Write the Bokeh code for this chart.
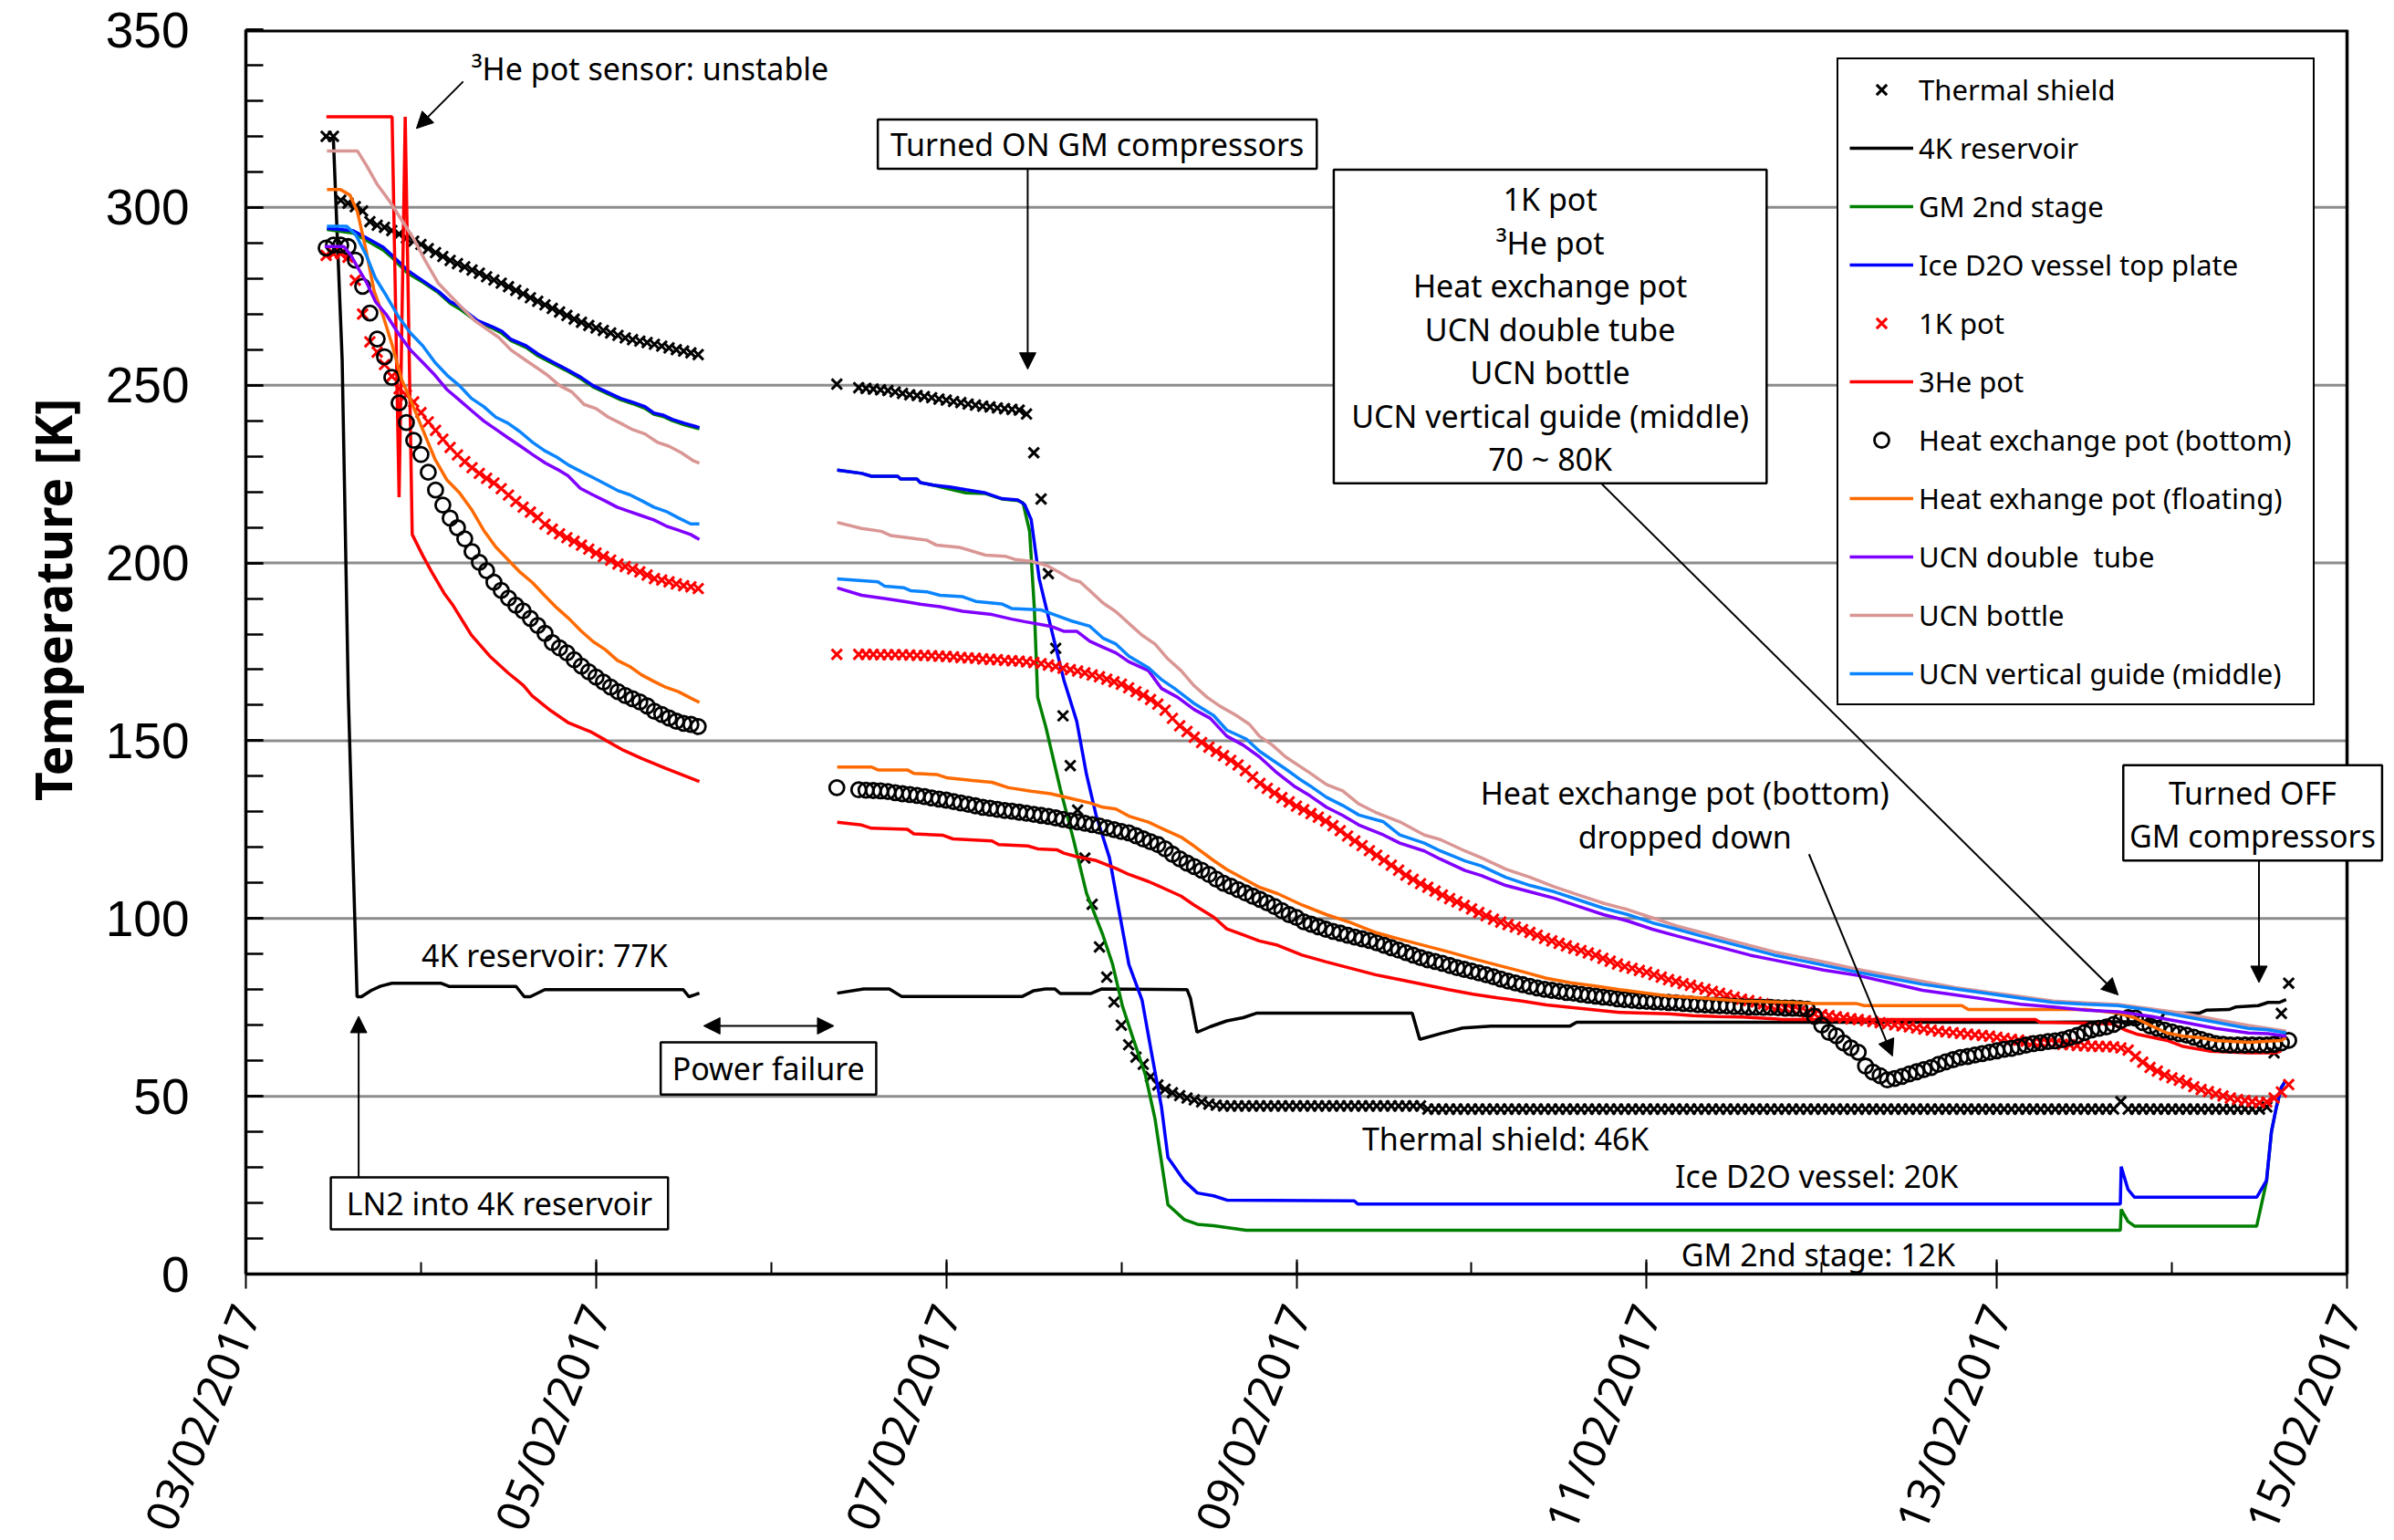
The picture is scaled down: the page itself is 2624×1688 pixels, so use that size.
import math
import numpy as np
from bokeh.plotting import figure
from bokeh.models import (Range1d, FixedTicker, Legend, LegendItem, Label, Title,
                          BoxAnnotation, Arrow, NormalHead)
from bokeh.embed import file_html
from bokeh.resources import INLINE

NAN = float("nan")

# ---------------- axes ----------------
date_ticks = [0, 2, 4, 6, 8, 10, 12]          # days since 03/02/2017 00:00
date_labels = ["03/02/2017", "05/02/2017", "07/02/2017", "09/02/2017",
               "11/02/2017", "13/02/2017", "15/02/2017"]
day_minor_ticks = list(range(0, 13))
temp_ticks = [0, 50, 100, 150, 200, 250, 300, 350]
temp_grid = [50, 100, 150, 200, 250, 300]
temp_minor_ticks = list(range(0, 351, 10))

# ---------------- hourly logged marker series ----------------
seg1_hours = list(range(11, 63))    # before power failure
seg2_hours = list(range(81, 281))   # after power failure

thermal_shield_seg1 = [
    320, 320, 302, 301.2, 300.2, 299, 296, 295, 294.4, 293.5,
    292.5, 291.4, 290.5, 289.6, 288.4, 287.3, 286.2, 285.1, 284.2, 283.3,
    282.4, 281.5, 280.5, 279.6, 278.7, 277.7, 276.7, 275.7, 274.6, 273.6,
    272.6, 271.6, 270.6, 269.6, 268.6, 267.7, 266.8, 266.1, 265.4, 264.7,
    264, 263.3, 262.8, 262.4, 262, 261.5, 261, 260.5, 260, 259.6,
    259.1, 258.6]
thermal_shield_seg2 = [
    250.3, NAN, NAN, 249.3, 249.1, 248.9, 248.7, 248.5, 248.1, 247.7,
    247.3, 247.1, 246.8, 246.5, 246.1, 245.8, 245.4, 245.1, 244.7, 244.4,
    244.1, 243.9, 243.6, 243.4, 243.2, 243.0, 241.9, 231, 218, 197,
    176, 157, 143, 130.5, 117, 104, 92, 83.5, 76.5, 70,
    64.5, 61, 59, 55.5, 53.2, 52, 51, 50.2, 49.5, 49,
    48.4, 47.8, 47.5, 47.3, 47.3, 47.3, 47.3, 47.3, 47.3, 47.3,
    47.3, 47.3, 47.3, 47.3, 47.3, 47.3, 47.3, 47.3, 47.3, 47.3,
    47.3, 47.3, 47.3, 47.3, 47.3, 47.3, 47.3, 47.3, 47.3, 47.3,
    47.3, 46.4, 46.4, 46.4, 46.4, 46.4, 46.4, 46.4, 46.4, 46.4,
    46.4, 46.4, 46.4, 46.4, 46.4, 46.4, 46.4, 46.4, 46.4, 46.4,
    46.4, 46.4, 46.4, 46.4, 46.4, 46.4, 46.4, 46.4, 46.4, 46.4,
    46.4, 46.4, 46.4, 46.4, 46.4, 46.4, 46.4, 46.4, 46.4, 46.4,
    46.4, 46.4, 46.4, 46.4, 46.4, 46.4, 46.4, 46.4, 46.4, 46.4,
    46.4, 46.4, 46.4, 46.4, 46.4, 46.4, 46.4, 46.4, 46.4, 46.4,
    46.4, 46.4, 46.4, 46.4, 46.4, 46.4, 46.4, 46.4, 46.4, 46.4,
    46.4, 46.4, 46.4, 46.4, 46.4, 46.4, 46.4, 46.4, 46.4, 46.4,
    46.4, 46.4, 46.4, 46.4, 46.4, 46.4, 46.4, 46.4, 46.4, 46.4,
    46.4, 46.4, 46.4, 46.4, 46.4, 46.4, 48.5, 46.4, 46.4, 46.4,
    46.4, 46.4, 46.4, 46.4, 46.4, 46.4, 46.4, 46.4, 46.4, 46.4,
    46.4, 46.4, 46.4, 46.4, 46.4, 46.4, 47, 62.2, 73.3, 81.8]

pot1k_seg1 = [
    286.5, 287, 287, 286, 279.5, 270, 262.2, 259.3, 255.8, 252.5,
    249, 247.2, 245.3, 242.3, 239.7, 237.3, 234.8, 232.5, 230.4, 228.5,
    226.8, 225.2, 223.8, 222.5, 220.9, 219.1, 217.3, 215.7, 214.3, 212.8,
    210.9, 209.5, 208.2, 207.1, 206.1, 205, 203.9, 202.8, 201.8, 200.8,
    199.7, 199, 198.3, 197.5, 196.6, 195.6, 195.2, 194.7, 194.1, 193.6,
    193.3, 192.8]
pot1k_seg2 = [
    174.3, NAN, NAN, 174.3, 174.3, 174.3, 174.2, 174.2, 174.2, 174.2,
    174.1, 174, 174, 173.9, 173.8, 173.7, 173.6, 173.4, 173.3, 173.2,
    173, 172.9, 172.8, 172.6, 172.5, 172.4, 172.2, 172, 171.7, 171.3,
    170.9, 170.4, 170, 169.6, 169.1, 168.5, 168, 167.3, 166.6, 165.9,
    164.9, 163.8, 162.8, 161.6, 160.3, 158.6, 156.3, 154.2, 152.6, 151,
    149.5, 148.2, 147, 145.8, 144.5, 143.2, 141.6, 139.8, 138, 136.6,
    135.3, 134, 132.8, 131.6, 130.6, 129.5, 128.5, 127.4, 126.1, 124.7,
    123.2, 121.8, 120.5, 119.1, 117.8, 116.4, 115, 113.6, 112.2, 111,
    109.8, 108.8, 107.7, 106.6, 105.6, 104.7, 103.7, 102.7, 101.7, 100.8,
    99.8, 99, 98.3, 97.6, 96.9, 96.1, 95.3, 94.4, 93.7, 93,
    92.3, 91.6, 91, 90.3, 89.7, 88.8, 88, 87.2, 86.5, 86,
    85.4, 84.9, 84.2, 83.5, 82.8, 82.3, 81.7, 81.2, 80.6, 80.1,
    79.5, 79, 78.4, 77.9, 77.3, 76.9, 76.5, 76, 75.6, 75.2,
    74.8, 74.4, 74, 73.6, 73.2, 73, 72.7, 72.4, 72.1, 71.8,
    71.6, 71.3, 71, 70.7, 70.4, 70.1, 69.8, 69.5, 69.2, 68.9,
    68.6, 68.3, 68.1, 67.9, 67.7, 67.5, 67.3, 67.1, 66.9, 66.6,
    66.3, 66, 65.8, 65.5, 65.3, 65.1, 64.9, 64.8, 64.6, 64.5,
    64.3, 64.2, 64.1, 64, 64, 63.9, 63.6, 63, 61.2, 59.6,
    58.1, 57.1, 56, 55.2, 54.5, 53.7, 52.7, 51.9, 51.3, 50.7,
    50.1, 49.5, 49.1, 48.8, 48.5, 48.2, 48.4, 49.5, 51.2, 53.3]

hx_bottom_seg1 = [
    288.6, 289.4, 289.4, 289, 285.2, 277.8, 270.3, 263, 258, 252.2,
    245, 239.5, 234.5, 230.5, 225.5, 220.5, 216.3, 212.6, 209.9, 206.8,
    203.2, 200.2, 197.8, 194.6, 192.3, 190.1, 188.1, 186.5, 184.4, 182.4,
    180.2, 177.6, 176.1, 174.7, 172.8, 171, 169.4, 167.9, 166.5, 165.1,
    163.8, 162.7, 161.8, 160.9, 159.8, 158.3, 157.4, 156.4, 155.5, 154.9,
    154.6, 154]
hx_bottom_seg2 = [
    136.8, NAN, NAN, 136.2, 136.1, 136, 135.9, 135.7, 135.4, 135.1,
    134.9, 134.6, 134.3, 133.9, 133.6, 133.3, 132.9, 132.5, 132.1, 131.7,
    131.3, 131, 130.7, 130.4, 130.2, 129.9, 129.6, 129.3, 129, 128.7,
    128.3, 127.9, 127.5, 127.2, 126.8, 126.4, 126, 125.5, 125, 124.5,
    124.1, 123.3, 122.4, 121.6, 120.8, 119.6, 118.1, 116.8, 115.6, 114.6,
    113.6, 112.4, 111.1, 109.9, 109.1, 108.1, 107.2, 106.3, 105.4, 104.4,
    103.4, 102.2, 101.1, 100.3, 99.1, 98.4, 97.7, 97, 96.4, 95.9,
    95.3, 94.8, 94.3, 93.8, 93.2, 92.5, 91.8, 91.1, 90.4, 89.7,
    89, 88.4, 87.9, 87.4, 86.8, 86.2, 85.7, 85.2, 84.7, 84.2,
    83.6, 83, 82.4, 81.9, 81.4, 80.9, 80.5, 80.1, 79.8, 79.5,
    79.2, 79, 78.7, 78.4, 78.2, 77.9, 77.7, 77.4, 77.2, 77,
    76.8, 76.7, 76.6, 76.5, 76.4, 76.3, 76.1, 76, 75.8, 75.7,
    75.6, 75.5, 75.4, 75.3, 75.2, 75.1, 75.1, 75, 75, 74.9,
    74.8, 74.8, 74.7, 74.5, 72.5, 70, 68, 67, 65, 63.6,
    62.4, 58.5, 56.8, 55.8, 54.6, 55, 55.6, 56.3, 56.9, 57.5,
    58.1, 59, 59.7, 60.3, 60.9, 61.2, 61.6, 62, 62.4, 62.8,
    63.2, 63.5, 63.9, 64.4, 64.8, 65.1, 65.4, 65.6, 65.9, 66.5,
    67.1, 67.9, 68.7, 69.1, 69.5, 70.2, 71.3, 72.1, 72, 70.7,
    69.8, 69.1, 68.6, 68.1, 67.6, 67.2, 66.6, 66, 65.4, 64.8,
    64.6, 64.4, 64.4, 64.4, 64.4, 64.4, 64.4, 64.6, 65, 65.7]

# ---------------- line series (day, K) ----------------
res4k_t1 = [0.45, 0.50, 0.55, 0.585, 0.61, 0.635, 0.66, 0.717, 0.77, 0.834,
            1.113, 1.16, 1.543, 1.59, 1.624, 1.707, 2.498, 2.53, 2.56, 2.59]
res4k_T1 = [320, 319, 257, 163, 120, 78, 78, 79.8, 81, 81.8,
            81.8, 80.9, 80.9, 78, 78, 80, 80, 78, 78.5, 79]
res4k_t2 = [3.377, 3.528, 3.675, 3.744, 4.435, 4.5, 4.565, 4.62, 4.651, 4.824,
            4.889, 5.375, 5.395, 5.432, 5.509, 5.602, 5.695, 5.775, 6.661, 6.704,
            6.828, 6.95, 7.112, 7.56, 7.6, 10.245, 10.93, 10.954, 11.158, 11.195,
            11.326, 11.363, 11.493, 11.549, 11.614, 11.652]
res4k_T2 = [79, 80.2, 80.2, 78.1, 78.1, 79.7, 80.2, 80.2, 78.9, 78.9,
            80.2, 80, 77.5, 68, 69.6, 71.2, 72.1, 73.4, 73.4, 66,
            67.7, 69.2, 69.7, 69.7, 70.8, 70.8, 71, 73.4, 73.4, 74.2,
            74.4, 75.1, 75.5, 76.4, 76.4, 77.2]

plate_t1 = [0.463, 0.611, 0.68, 0.785, 0.837, 0.924, 1.01, 1.1, 1.167, 1.219,
            1.262, 1.323, 1.41, 1.462, 1.514, 1.6, 1.67, 1.757, 1.827, 1.914,
            1.983, 2.053, 2.14, 2.209, 2.279, 2.33, 2.382, 2.435, 2.504, 2.59]
ice_T1 = [294.1, 293.5, 291.7, 288.8, 286.4, 282.3, 279.4, 276.4, 273.5, 272.3,
          270.5, 268.2, 266.4, 265.2, 262.9, 261.1, 258.7, 256.4, 254.6, 252.2,
          249.9, 248.3, 246.3, 245.2, 244, 242.2, 241.6, 240.4, 239.3, 238.1]
gm_T1 = [293.8, 292.8, 291, 288, 285.8, 281.5, 279, 276, 273, 271.5,
         270, 267.7, 266, 264.6, 262.5, 260.6, 258.2, 256, 254.2, 251.8,
         249.5, 247.9, 245.9, 244.8, 243.5, 241.8, 241.2, 240, 238.9, 237.7]
ice_t2 = [3.377, 3.517, 3.573, 3.722, 3.74, 3.833, 3.852, 3.926, 4.02, 4.113,
          4.224, 4.317, 4.41, 4.448, 4.485, 4.531, 4.596, 4.671, 4.745, 4.801,
          4.857, 4.932, 4.987, 5.043, 5.118, 5.173, 5.229, 5.266, 5.36, 5.434,
          5.527, 5.602, 6.33, 6.35, 10.705, 10.71, 10.749, 10.786, 11.484, 11.54,
          11.568, 11.596, 11.624, 11.645]
ice_T2 = [226.1, 225.2, 224.4, 224.4, 223.6, 223.6, 222.6, 221.9, 221.4, 220.6,
          219.7, 218.1, 217.7, 216.4, 212.2, 195.5, 182.2, 167.2, 155.5, 140.5,
          128.8, 117.1, 102.1, 87.1, 77.1, 62, 47, 32.8, 26.2, 22.8,
          22, 20.8, 20.6, 19.7, 19.7, 30.2, 23.8, 21.6, 21.6, 26.3,
          40, 46.9, 52.4, 54]
gm_t2 = [3.377, 3.517, 3.573, 3.722, 3.74, 3.833, 3.852, 3.926, 4.001, 4.113,
         4.224, 4.317, 4.41, 4.438, 4.476, 4.503, 4.522, 4.569, 4.652, 4.727,
         4.801, 4.894, 4.95, 5.006, 5.062, 5.136, 5.192, 5.266, 5.36, 5.434,
         5.527, 5.713, 10.705, 10.71, 10.749, 10.786, 11.484, 11.54, 11.568, 11.596,
         11.624, 11.645]
gm_T2 = [226.1, 225.2, 224.4, 224.4, 223.6, 223.6, 222.6, 221.9, 221, 219.7,
         219.5, 218, 217.5, 216.9, 208.9, 187.2, 162.2, 153.8, 136.3, 122.1,
         107.1, 95.4, 87.1, 75.4, 67, 56.2, 43.7, 19.5, 15.3, 14,
         13.6, 12.3, 12.3, 18.2, 14.8, 13.5, 13.5, 26, 40, 46.9,
         52.4, 54]

he3_t1 = [0.46, 0.835, 0.875, 0.91, 0.95, 1.01, 1.062, 1.132, 1.184, 1.288,
          1.393, 1.497, 1.584, 1.636, 1.74, 1.844, 1.966, 2.053, 2.157, 2.261,
          2.4, 2.59]
he3_T1 = [325.5, 325.5, 218.5, 325.5, 208, 202.1, 197.4, 191.5, 188, 179.7,
          173.8, 169.1, 165.6, 162.6, 158.5, 155, 152.6, 150.2, 147.3, 145,
          142.2, 138.5]
he3_t2 = [3.377, 3.517, 3.573, 3.778, 3.815, 3.982, 4.038, 4.261, 4.299, 4.466,
          4.522, 4.634, 4.671, 4.745, 4.857, 4.969, 5.043, 5.155, 5.229, 5.341,
          5.415, 5.527, 5.602, 5.695, 5.788, 5.892, 6.032, 6.171, 6.311, 6.45,
          6.59, 6.73, 6.869, 7.009, 7.148, 7.288, 7.427, 7.567, 7.706, 7.846,
          7.986, 8.125, 8.265, 8.404, 8.544, 8.73, 8.776, 10.22, 10.246, 10.656,
          10.73, 10.805, 10.972, 11.065, 11.214, 11.437, 11.586, 11.624]
he3_T2 = [127.1, 126.3, 125.4, 125.1, 123.8, 123.4, 122.4, 121.8, 120.8, 120.4,
          119.6, 119.3, 118.4, 117.4, 116.3, 114.1, 112.4, 110.4, 108.8, 106.3,
          103.8, 100.4, 97.1, 95.4, 93.7, 92.5, 89.7, 87.8, 86, 84.2,
          82.8, 81.4, 80, 78.7, 77.7, 76.8, 75.7, 75, 74.3, 73.6,
          73.4, 73.2, 72.7, 72.4, 72.3, 71.8, 71.6, 71.6, 70.8, 70.4,
          68.7, 67.4, 65.7, 64, 62.7, 62.2, 62.2, 62.7]

hxf_t1 = [0.463, 0.541, 0.594, 0.637, 0.68, 0.733, 0.785, 0.837, 0.889, 0.941,
          1.01, 1.08, 1.149, 1.219, 1.288, 1.358, 1.427, 1.497, 1.566, 1.636,
          1.705, 1.775, 1.844, 1.914, 1.983, 2.053, 2.122, 2.192, 2.261, 2.33,
          2.4, 2.47, 2.54, 2.59]
hxf_T1 = [305, 305, 303.5, 298.8, 289.4, 276.4, 269.3, 261.1, 251.7, 245.8,
          237.5, 229.2, 223.3, 219.8, 215.1, 209.2, 204.5, 200.9, 197.4, 194.5,
          190.9, 187.4, 184.4, 180.9, 177.9, 175.6, 172.6, 170.9, 168.5, 166.7,
          165, 163.8, 162, 160.8]
hxf_t2 = [3.377, 3.573, 3.61, 3.778, 3.815, 3.945, 4.001, 4.15, 4.261, 4.355,
          4.485, 4.596, 4.708, 4.82, 4.894, 4.969, 5.043, 5.155, 5.229, 5.341,
          5.415, 5.527, 5.602, 5.695, 5.788, 5.892, 6.032, 6.171, 6.311, 6.45,
          6.59, 6.73, 6.869, 7.009, 7.148, 7.288, 7.427, 7.567, 7.706, 7.846,
          7.986, 8.125, 8.265, 8.404, 8.544, 8.683, 8.823, 8.963, 9.195, 9.242,
          9.8, 9.837, 10.507, 10.693, 10.786, 10.879, 10.972, 11.065, 11.158, 11.251,
          11.437, 11.624, 11.652]
hxf_T2 = [142.6, 142.6, 141.8, 141.8, 140.8, 140.5, 139.6, 138.8, 138.3, 136.8,
          135.8, 135.1, 133.8, 132.5, 131.3, 130.8, 128.8, 127.1, 125.4, 122.9,
          120.4, 116.3, 113.8, 111.3, 108.8, 107, 103.8, 101.1, 98.8, 96.1,
          94.2, 92.4, 90.6, 88.7, 86.9, 85.1, 83.2, 81.9, 81, 80,
          79.1, 78.2, 77.8, 77.3, 76.8, 76.6, 76.4, 76.1, 76.1, 75.5,
          75.5, 74.4, 74.4, 73.4, 72.1, 69.9, 67.8, 66.9, 66.5, 65.7,
          65.2, 65.7, 66.5]

dbl_t1 = [0.45, 0.56, 0.6, 0.64, 0.69, 0.74, 0.80, 0.87, 0.94, 1.01,
          1.08, 1.15, 1.22, 1.29, 1.36, 1.43, 1.5, 1.57, 1.64, 1.71,
          1.78, 1.84, 1.91, 1.98, 2.05, 2.12, 2.19, 2.26, 2.33, 2.4,
          2.47, 2.54, 2.59]
dbl_T1 = [289, 289, 286.5, 283, 278.8, 273.5, 270, 264.6, 259.9, 256.4,
          252.8, 248.7, 245.8, 242.8, 239.9, 237.5, 235.1, 232.8, 230.4, 228.1,
          226.3, 224.5, 221, 219.2, 217.5, 215.7, 214.5, 213.3, 212.1, 210.4,
          209.2, 208, 206.6]
dbl_t2 = [3.377, 3.517, 3.647, 3.759, 3.852, 3.964, 4.094, 4.261, 4.373, 4.448,
          4.596, 4.671, 4.745, 4.82, 4.894, 4.969, 5.043, 5.155, 5.229, 5.322,
          5.415, 5.508, 5.602, 5.695, 5.788, 5.881, 5.985, 6.078, 6.171, 6.264,
          6.357, 6.497, 6.59, 6.73, 6.822, 6.962, 7.055, 7.195, 7.334, 7.474,
          7.613, 7.753, 7.892, 8.032, 8.172, 8.311, 8.451, 8.59, 8.73, 8.869,
          9.009, 9.204, 9.39, 9.576, 9.762, 9.949, 10.135, 10.321, 10.507, 10.693,
          10.879, 11.065, 11.251, 11.437, 11.549, 11.652]
dbl_T2 = [193, 190.9, 190, 189.2, 188.4, 187.7, 186.4, 185.5, 184.2, 183.5,
          182.2, 180.8, 180.8, 178, 176.3, 174.7, 172.2, 169.7, 164.7, 162.2,
          158.8, 156.3, 151.3, 148.8, 145.5, 141.3, 137.3, 134.5, 131.3, 129,
          126.3, 123.5, 121.2, 119, 116.7, 113.5, 112.1, 109.3, 107.5, 105.7,
          103.4, 101.1, 99.3, 97, 95.1, 93.3, 91.5, 89.7, 88.3, 86.9,
          85.5, 84, 81.9, 79.8, 78.5, 77.2, 75.9, 75.1, 74.2, 73.8,
          72.5, 70.8, 69.1, 67.8, 67.6, 66.9]

bottle_t1 = [0.463, 0.637, 0.689, 0.75, 0.82, 0.889, 0.958, 1.028, 1.097, 1.167,
             1.236, 1.306, 1.375, 1.445, 1.514, 1.584, 1.653, 1.723, 1.792, 1.862,
             1.931, 2.0, 2.07, 2.14, 2.209, 2.279, 2.348, 2.418, 2.487, 2.557,
             2.59]
bottle_T1 = [315.9, 315.9, 311.8, 306.5, 301.8, 296.5, 291.2, 284.7, 278.8, 275.2,
             271.7, 268.2, 265.8, 263.4, 259.9, 257.5, 255.2, 252.8, 249.9, 248.1,
             244.6, 243.4, 241, 239.3, 237.5, 236.3, 234, 232.8, 231, 228.7,
             228.1]
bottle_t2 = [3.377, 3.517, 3.629, 3.684, 3.815, 3.889, 3.945, 4.075, 4.224, 4.336,
             4.392, 4.485, 4.578, 4.652, 4.708, 4.764, 4.82, 4.894, 4.969, 5.043,
             5.118, 5.192, 5.266, 5.341, 5.415, 5.49, 5.564, 5.657, 5.732, 5.788,
             5.862, 5.937, 6.078, 6.171, 6.264, 6.357, 6.45, 6.59, 6.73, 6.822,
             6.962, 7.055, 7.195, 7.334, 7.474, 7.613, 7.753, 7.892, 8.032, 8.172,
             8.311, 8.451, 8.59, 8.73, 8.869, 9.009, 9.204, 9.39, 9.576, 9.762,
             9.949, 10.135, 10.321, 10.507, 10.693, 10.879, 11.065, 11.251, 11.437, 11.549,
             11.652]
bottle_T2 = [211.4, 209.7, 208.9, 207.7, 206.9, 206.4, 205, 204.4, 202.2, 201.9,
             201, 200.5, 199.2, 197.2, 195.5, 194.7, 192.2, 188.8, 186.3, 183,
             179.7, 177.2, 173, 169.7, 165.5, 162.2, 159.7, 157.1, 154.6, 151.3,
             148.8, 145.5, 140.9, 137.7, 135.9, 132.2, 129.9, 127.2, 123.5, 122.2,
             119, 117.1, 113.9, 111.6, 108.9, 106.6, 104.3, 102.5, 100.2, 97.9,
             96.1, 94.2, 92.4, 90.6, 89.2, 87.8, 85.7, 84, 82.3, 80.6,
             79.3, 78.1, 76.8, 76.3, 75.8, 74.6, 73.3, 71.6, 69.9, 69.1,
             68.3]

guide_t1 = [0.463, 0.576, 0.628, 0.689, 0.741, 0.802, 0.871, 0.941, 1.01, 1.08,
            1.149, 1.219, 1.288, 1.358, 1.427, 1.497, 1.566, 1.636, 1.705, 1.775,
            1.844, 1.914, 1.983, 2.053, 2.122, 2.192, 2.261, 2.33, 2.4, 2.47,
            2.54, 2.59]
guide_T1 = [294.7, 294.7, 292.3, 286.4, 280, 275.2, 269.3, 264.6, 261.1, 256.4,
            252.8, 249.9, 246.3, 244, 241, 239.3, 236.9, 234, 231.6, 229.8,
            227.5, 225.7, 224, 222.2, 220.4, 219.2, 217.5, 215.7, 214.5, 212.7,
            211, 211]
guide_t2 = [3.377, 3.61, 3.647, 3.759, 3.796, 3.889, 3.964, 4.094, 4.168, 4.317,
            4.373, 4.541, 4.615, 4.708, 4.82, 4.894, 4.969, 5.043, 5.155, 5.229,
            5.304, 5.415, 5.527, 5.602, 5.713, 5.788, 5.862, 5.937, 6.03, 6.078,
            6.171, 6.264, 6.357, 6.497, 6.59, 6.73, 6.822, 6.962, 7.055, 7.195,
            7.334, 7.474, 7.613, 7.753, 7.892, 8.032, 8.172, 8.311, 8.451, 8.59,
            8.73, 8.869, 9.009, 9.204, 9.39, 9.576, 9.762, 9.949, 10.135, 10.321,
            10.507, 10.693, 10.879, 11.065, 11.251, 11.437, 11.549, 11.652]
guide_T2 = [195.5, 194.7, 193.5, 193, 192.2, 191.9, 190.9, 190.5, 189.2, 188.5,
            187.2, 186.8, 185.5, 183.8, 182.2, 178.9, 177.2, 173.8, 170.5, 167.2,
            164.7, 160.5, 157.1, 153, 150.5, 147.1, 144.6, 142.1, 138.8, 137.3,
            134.1, 131.8, 129.1, 127.2, 123.5, 121.2, 119, 116.2, 114.8, 111.6,
            109.3, 107.5, 105.2, 102.9, 101.1, 98.8, 97, 95.1, 93.3, 91.5,
            89.7, 88.3, 86.9, 84.9, 83.2, 81.5, 80.2, 78.9, 77.6, 76.4,
            75.9, 75.5, 74.2, 72.5, 70.8, 69.1, 68.7, 67.8]

# ---------------- assemble ----------------
def check(a, b, name):
    if len(a) != len(b):
        raise ValueError(f"{name}: {len(a)} vs {len(b)}")

marker_days = np.array([h / 24 for h in seg1_hours] + [h / 24 for h in seg2_hours], dtype=float)

def marker_vals(s1, s2, name):
    check(seg1_hours, s1, name + " seg1")
    check(seg2_hours, s2, name + " seg2")
    return np.array(s1 + s2, dtype=float)

def joined(t1, v1, t2, v2, name):
    check(t1, v1, name + " 1")
    check(t2, v2, name + " 2")
    return (np.array(t1 + [NAN] + t2, dtype=float), np.array(v1 + [NAN] + v2, dtype=float))

FONT = "Noto Sans"
X_END = 12.229   # frame reaches a little past 15/02 so the right-hand note box fits

p = figure(frame_width=2347, frame_height=1364,
           x_range=Range1d(0, X_END), y_range=Range1d(0, 350),
           output_backend="svg", toolbar_location=None,
           min_border_left=269, min_border_right=4, min_border_top=32, min_border_bottom=290,
           background_fill_color="white", border_fill_color="white")

p.outline_line_color = None
p.xgrid.visible = False
p.ygrid.visible = False

# grid lines and plot-box border (only up to 15/02)
p.segment(x0=[0] * len(temp_grid), y0=temp_grid, x1=[date_ticks[-1]] * len(temp_grid), y1=temp_grid,
          line_color="#8c8c8c", line_width=3, level="underlay")
p.line([0, date_ticks[-1]], [temp_ticks[-1], temp_ticks[-1]], line_color="black", line_width=6,
       level="underlay")
p.line([date_ticks[-1], date_ticks[-1]], [0, temp_ticks[-1]], line_color="black", line_width=3.5)

xa = p.xaxis[0]
xa.bounds = (0, date_ticks[-1])
xa.ticker = FixedTicker(ticks=date_ticks, minor_ticks=day_minor_ticks)
xa.major_label_overrides = {t: l for t, l in zip(date_ticks, date_labels)}
xa.major_label_orientation = 1.19
xa.major_label_text_font = FONT
xa.major_label_text_font_size = "49px"
xa.major_label_text_color = "black"
xa.major_label_standoff = 20
xa.axis_line_width = 3.5
xa.axis_line_color = "black"
xa.major_tick_in = 16
xa.major_tick_out = 16
xa.minor_tick_in = 13
xa.minor_tick_out = 0
xa.major_tick_line_width = 2
xa.minor_tick_line_width = 2
xa.major_tick_line_color = "black"
xa.minor_tick_line_color = "black"

ya = p.yaxis[0]
ya.ticker = FixedTicker(ticks=temp_ticks, minor_ticks=temp_minor_ticks)
ya.major_label_text_font = "Liberation Sans"
ya.major_label_text_font_size = "55px"
ya.major_label_text_color = "black"
ya.major_label_standoff = 62
ya.axis_line_width = 3.5
ya.axis_line_color = "black"
ya.major_tick_in = 19
ya.major_tick_out = 0
ya.minor_tick_in = 19
ya.minor_tick_out = 0
ya.major_tick_line_width = 2.5
ya.minor_tick_line_width = 2.5
ya.major_tick_line_color = "black"
ya.minor_tick_line_color = "black"

# axis title (leading no-break spaces lift the centred text to where the reference has it)
p.add_layout(Title(text="\u00a0" * 8 + "Temperature [K]", align="center", standoff=35,
                   text_font=FONT, text_font_size="55px", text_font_style="bold",
                   text_color="black"), "left")

# ---------------- series ----------------
LW = 3.5
r_ts = p.scatter(marker_days, marker_vals(thermal_shield_seg1, thermal_shield_seg2, "ts"),
                 marker="x", size=16, line_color="black", line_width=3)
x, y = joined(res4k_t1, res4k_T1, res4k_t2, res4k_T2, "4k")
r_4k = p.line(x, y, line_color="black", line_width=LW)
x, y = joined(plate_t1, gm_T1, gm_t2, gm_T2, "gm")
r_gm = p.line(x, y, line_color="#008000", line_width=LW)
x, y = joined(plate_t1, ice_T1, ice_t2, ice_T2, "ice")
r_ice = p.line(x, y, line_color="#0000FF", line_width=LW)
r_1k = p.scatter(marker_days, marker_vals(pot1k_seg1, pot1k_seg2, "1k"),
                 marker="x", size=16, line_color="#FF0000", line_width=3)
x, y = joined(he3_t1, he3_T1, he3_t2, he3_T2, "he3")
r_he3 = p.line(x, y, line_color="#FF0000", line_width=LW)
r_hxb = p.scatter(marker_days, marker_vals(hx_bottom_seg1, hx_bottom_seg2, "hxb"),
                  marker="circle", size=16, line_color="black", fill_color=None, line_width=2.8)
x, y = joined(hxf_t1, hxf_T1, hxf_t2, hxf_T2, "hxf")
r_hxf = p.line(x, y, line_color="#FF6A00", line_width=LW)
x, y = joined(dbl_t1, dbl_T1, dbl_t2, dbl_T2, "dbl")
r_dbl = p.line(x, y, line_color="#8000FF", line_width=LW)
x, y = joined(bottle_t1, bottle_T1, bottle_t2, bottle_T2, "bottle")
r_bot = p.line(x, y, line_color="#D99694", line_width=LW)
x, y = joined(guide_t1, guide_T1, guide_t2, guide_T2, "guide")
r_gui = p.line(x, y, line_color="#0A84FF", line_width=LW)

legend_labels = ["Thermal shield", "4K reservoir", "GM 2nd stage", "Ice D2O vessel top plate",
                 "1K pot", "3He pot", "Heat exchange pot (bottom)", "Heat exhange pot (floating)",
                 "UCN double  tube", "UCN bottle", "UCN vertical guide (middle)"]
renderers = [r_ts, r_4k, r_gm, r_ice, r_1k, r_he3, r_hxb, r_hxf, r_dbl, r_bot, r_gui]
legend = Legend(items=[LegendItem(label=l, renderers=[r]) for l, r in zip(legend_labels, renderers)],
                location=(1744, 623), orientation="vertical",
                border_line_color="black", border_line_width=2.5, border_line_alpha=1,
                background_fill_color="white", background_fill_alpha=1,
                padding=12, spacing=22, margin=0,
                glyph_width=70, glyph_height=40, label_height=40, label_width=420,
                label_standoff=6,
                label_text_font=FONT, label_text_font_size="31px", label_text_color="black")
p.add_layout(legend)

# ---------------- annotations ----------------
def txt(x, y, s, size="34px", align="center", **kw):
    p.add_layout(Label(x=x, y=y, text=s, text_font=FONT, text_font_size=size,
                       text_align=align, text_baseline="middle", text_color="black", **kw))

def box(l, r, t, b):
    p.add_layout(BoxAnnotation(left=l, right=r, top=t, bottom=b, fill_color="white", fill_alpha=1,
                               line_color="black", line_width=2.5, line_alpha=1))

def arrow(x0, y0, x1, y1, both=False):
    head = lambda: NormalHead(size=18, fill_color="black", line_color="black", line_width=1)
    p.add_layout(Arrow(x_start=x0, y_start=y0, x_end=x1, y_end=y1, end=head(),
                       start=head() if both else None, line_color="black", line_width=2))

txt(1.288, 339.0, "³He pot sensor: unstable", align="left")
arrow(1.241, 335.4, 0.974, 322.2)

box(3.609, 6.116, 324.7, 310.9)
txt(4.862, 317.8, "Turned ON GM compressors")
arrow(4.465, 310.9, 4.465, 254.5)

box(6.213, 8.685, 310.6, 222.4)
big_lines = ["1K pot", "³He pot", "Heat exchange pot", "UCN double tube", "UCN bottle",
             "UCN vertical guide (middle)", "70 ~ 80K"]
big_y = [302.5, 290.1, 278.1, 265.7, 253.7, 241.3, 229.3]
for s, yy in zip(big_lines, big_y):
    txt(7.449, yy, s)
arrow(7.74, 222.4, 10.693, 78.5)

txt(8.218, 135.4, "Heat exchange pot (bottom)")
txt(8.218, 123.1, "dropped down")
arrow(8.927, 118.1, 9.404, 61.3)

box(10.722, 12.20, 143.1, 116.3)
txt(11.46, 135.4, "Turned OFF")
txt(11.46, 123.2, "GM compressors")
arrow(11.497, 116.3, 11.497, 82.0)

txt(1.706, 89.6, "4K reservoir: 77K")
box(0.485, 2.411, 27.2, 12.6)
txt(1.448, 19.9, "LN2 into 4K reservoir")
arrow(0.644, 27.2, 0.644, 72.5)

arrow(2.614, 69.8, 3.358, 69.8, both=True)
box(2.369, 3.6, 65.2, 50.5)
txt(2.984, 57.9, "Power failure")

txt(7.194, 38.0, "Thermal shield: 46K")
txt(8.971, 27.5, "Ice D2O vessel: 20K")
txt(8.98, 5.6, "GM 2nd stage: 12K")

open("out.html", "w").write(file_html(p, INLINE))
